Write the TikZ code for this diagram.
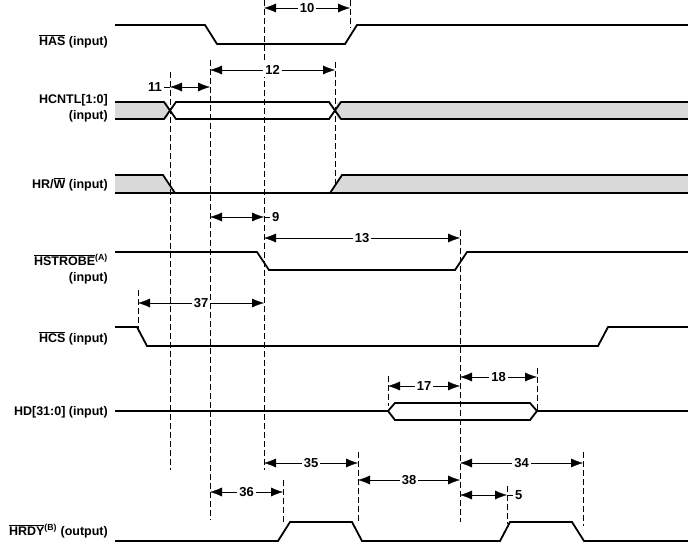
\documentclass[tikz,border=0pt]{standalone}
\usepackage{fontspec}
\setmainfont{Liberation Sans}
\usetikzlibrary{arrows.meta, positioning}
\tikzset{%
  sig/.style={line width=1.8pt, line join=miter},
  guide/.style={dash pattern=on 6pt off 3pt, thin},
  dim/.style={{Latex[length=12pt,width=9pt]}-{Latex[length=12pt,width=9pt]}, thin},
  num/.style={fill=white, inner sep=2pt, font=\bfseries\fontsize{13}{15}\selectfont},
  lbl/.style={anchor=east, align=right, font=\bfseries\fontsize{12.5}{16}\selectfont, inner sep=0pt}
}
\begin{document}
\begin{tikzpicture}[x=1pt, y=-1pt]
  \useasboundingbox (0,0) rectangle (688,544);

  % signal names
  \node[lbl] (has) at (108,41) {$\overline{\mbox{HAS}}$ (input)};
  \node[lbl] (hcntl) at (108,108) {HCNTL[1:0]\\(input)};
  \node[lbl] (hrw) at (108,184) {HR/$\overline{\mbox{W}}$ (input)};
  \node[lbl] (hstrobe) at (108,269) {$\overline{\mbox{HSTROBE}}$\textsuperscript{(A)}\\(input)};
  \node[lbl] (hcs) at (108,338) {$\overline{\mbox{HCS}}$ (input)};
  \node[lbl] (hd) at (108,412) {HD[31:0] (input)};
  \node[lbl] (hrdy) at (108,531) {$\overline{\mbox{HRDY}}$\textsuperscript{(B)} (output)};

  % waveforms
  \draw[sig] (115,25) -- (205,25) -- (217,44) -- (345,44) -- (357,25) -- (688,25);
  \fill[gray!30] (115,102) -- (167,102) -- (170,110) -- (167,119) -- (115,119) -- cycle;
  \fill[gray!30] (688,102) -- (338,102) -- (335,110) -- (338,119) -- (688,119) -- cycle;
  \draw[sig] (115,102) -- (164,102) -- (176,119) -- (329,119) -- (341,102) -- (688,102);
  \draw[sig] (115,119) -- (164,119) -- (176,102) -- (329,102) -- (341,119) -- (688,119);
  \fill[gray!30] (115,175) -- (163,175) -- (175,193) -- (330,193) -- (342,175) -- (688,175)
    -- (688,193) -- (115,193) -- cycle;
  \draw[sig] (115,175) -- (163,175) -- (175,193) -- (330,193) -- (342,175) -- (688,175);
  \draw[sig] (115,193) -- (688,193);
  \draw[sig] (115,252) -- (257,252) -- (269,270) -- (455,270) -- (467,252) -- (688,252);
  \draw[sig] (115,327) -- (137,327) -- (147,346) -- (598,346) -- (608,327) -- (688,327);
  \draw[sig] (115,411) -- (388,411) -- (395,403) -- (530,403) -- (537,411) -- (530,420)
    -- (395,420) -- (388,411);
  \draw[sig] (537,411) -- (688,411);
  \draw[sig] (115,541) -- (278,541) -- (290,522) -- (352,522) -- (362,541) -- (500,541)
    -- (510,522) -- (572,522) -- (584,541) -- (688,541);

  % timing guides
  \foreach \x/\ya/\yb in {170/72/470, 210/60/520, 264/0/470, 335/62/186, 350/0/28,
      460/230/522, 138/290/332, 388/376/406, 537/368/410, 283/480/522, 358/452/522,
      583/452/526, 507/486/524}
    \draw[guide] (\x,\ya) -- (\x,\yb);

  % dimension arrows
  \foreach \n/\xa/\xb/\y in {10/264/350/8, 12/210/335/70, 13/264/460/238, 37/138/264/303,
      17/388/460/386, 18/460/537/377, 35/264/358/463, 38/358/460/480, 34/460/583/463,
      36/210/283/492}
  {
    \coordinate (a\n) at (\xa,\y);
    \coordinate (b\n) at (\xb,\y);
    \draw[dim] (a\n) -- (b\n) node[num, midway] {\n};
  }
  \coordinate (a11) at (170,87);
  \coordinate (b11) at (210,87);
  \draw[dim] (a11) -- (b11);
  \node[num, left=6pt of a11] (t11) {11};
  \draw[thin] (t11) -- (a11);
  \coordinate (a9) at (210,217);
  \coordinate (b9) at (264,217);
  \draw[dim] (a9) -- (b9);
  \node[num, right=6pt of b9] (t9) {9};
  \draw[thin] (b9) -- (t9);
  \coordinate (a5) at (460,495);
  \coordinate (b5) at (507,495);
  \draw[dim] (a5) -- (b5);
  \node[num, right=6pt of b5] (t5) {5};
  \draw[thin] (b5) -- (t5);
\end{tikzpicture}
\end{document}
